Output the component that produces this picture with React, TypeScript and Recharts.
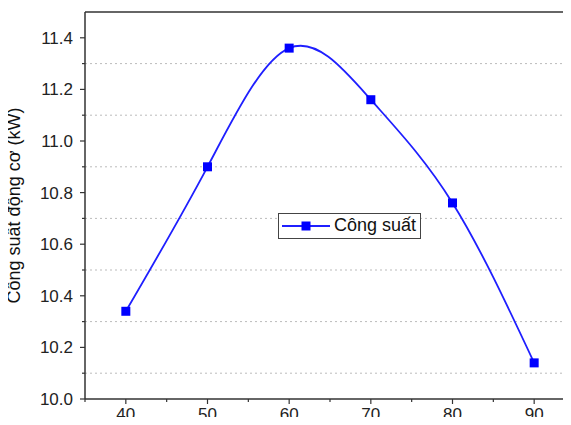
import React from 'react'
import {
  LineChart,
  Line,
  XAxis,
  YAxis,
  ReferenceLine,
  Label,
} from 'recharts'

const speeds = [40, 50, 60, 70, 80, 90]
const power = [10.34, 10.9, 11.36, 11.16, 10.76, 10.14]

const xMajor = [40, 50, 60, 70, 80, 90]
const xMinor = [35, 45, 55, 65, 75, 85, 95]
const yMajor = [10.0, 10.2, 10.4, 10.6, 10.8, 11.0, 11.2, 11.4]
const yMinor = [10.1, 10.3, 10.5, 10.7, 10.9, 11.1, 11.3]

const FONT = '"Liberation Sans", Arial, sans-serif'
const AXIS = '#333'

const data = speeds.map((x, i) => ({ x, y: power[i] }))

function XTick(props: any) {
  const { x, y, payload } = props
  const major = xMajor.includes(payload.value)
  return (
    <g>
      <line x1={x} x2={x} y1={y} y2={y + (major ? 5 : 3)} stroke={AXIS} strokeWidth={1.2} />
      {major && (
        <text x={x} y={y + 21} textAnchor="middle" fontSize={17} fontFamily={FONT} fill="#222">
          {payload.value}
        </text>
      )}
    </g>
  )
}

function YTick(props: any) {
  const { x, y, payload } = props
  const major = yMajor.some(v => Math.abs(v - payload.value) < 1e-6)
  return (
    <g>
      <line x1={x} x2={x - (major ? 5 : 3)} y1={y} y2={y} stroke={AXIS} strokeWidth={1.2} />
      {major && (
        <text x={x - 12} y={y + 6} textAnchor="end" fontSize={17} fontFamily={FONT} fill="#222">
          {payload.value.toFixed(1)}
        </text>
      )}
    </g>
  )
}

function LegendBox() {
  return (
    <div
      style={{
        position: 'absolute',
        left: 278,
        top: 213,
        border: '1.5px solid #444',
        background: '#fff',
        display: 'flex',
        alignItems: 'center',
        padding: '1px 4px 2px 3px',
        fontFamily: FONT,
        fontSize: 18,
        color: '#111',
      }}
    >
      <svg width={48} height={12} style={{ marginRight: 4 }}>
        <line x1={0} x2={48} y1={6} y2={6} stroke="#1f1fff" strokeWidth={1.8} />
        <rect x={19.5} y={1.5} width={9} height={9} fill="#0000ff" />
      </svg>
      Công suất
    </div>
  )
}

function SquareDot(props: any) {
  const { cx, cy } = props
  return <rect x={cx - 4.5} y={cy - 4.5} width={9} height={9} fill="#0000ff" />
}

export default function App() {
  const allX = [...xMajor, ...xMinor].sort((a, b) => a - b)
  const allY = [...yMajor, ...yMinor].sort((a, b) => a - b)
  return (
    <div style={{ margin: -8, width: 571, height: 425, overflow: 'hidden', background: '#fff', position: 'relative' }}>
      <LineChart width={580} height={425} data={data} margin={{ top: 12, right: 5, bottom: 0, left: 0 }}>
        {yMinor.map(v => (
          <ReferenceLine key={v} y={v} stroke="#bbb" strokeDasharray="2 3" strokeWidth={1} />
        ))}
        <ReferenceLine y={11.5} stroke={AXIS} strokeWidth={1.5} />
        <XAxis
          dataKey="x"
          type="number"
          domain={[35, 95]}
          ticks={allX}
          interval={0}
          tick={<XTick />}
          tickLine={false}
          tickSize={0}
          tickMargin={0}
          height={26}
          axisLine={{ stroke: AXIS, strokeWidth: 1.5 }}
        />
        <YAxis
          type="number"
          domain={[10, 11.5]}
          ticks={allY}
          interval={0}
          width={85}
          tick={<YTick />}
          tickLine={false}
          tickSize={0}
          tickMargin={0}
          axisLine={{ stroke: AXIS, strokeWidth: 1.5 }}
        >
          <Label
            value="Công suất động cơ (kW)"
            angle={-90}
            position="insideLeft"
            offset={14}
            style={{ textAnchor: 'middle', fontSize: 18, fontFamily: FONT, fill: '#111' }}
          />
        </YAxis>
        <Line
          type="natural"
          dataKey="y"
          name="Công suất"
          stroke="#1f1fff"
          strokeWidth={1.8}
          dot={<SquareDot />}
          activeDot={false}
          isAnimationActive={false}
        />
      </LineChart>
      <LegendBox />
    </div>
  )
}
